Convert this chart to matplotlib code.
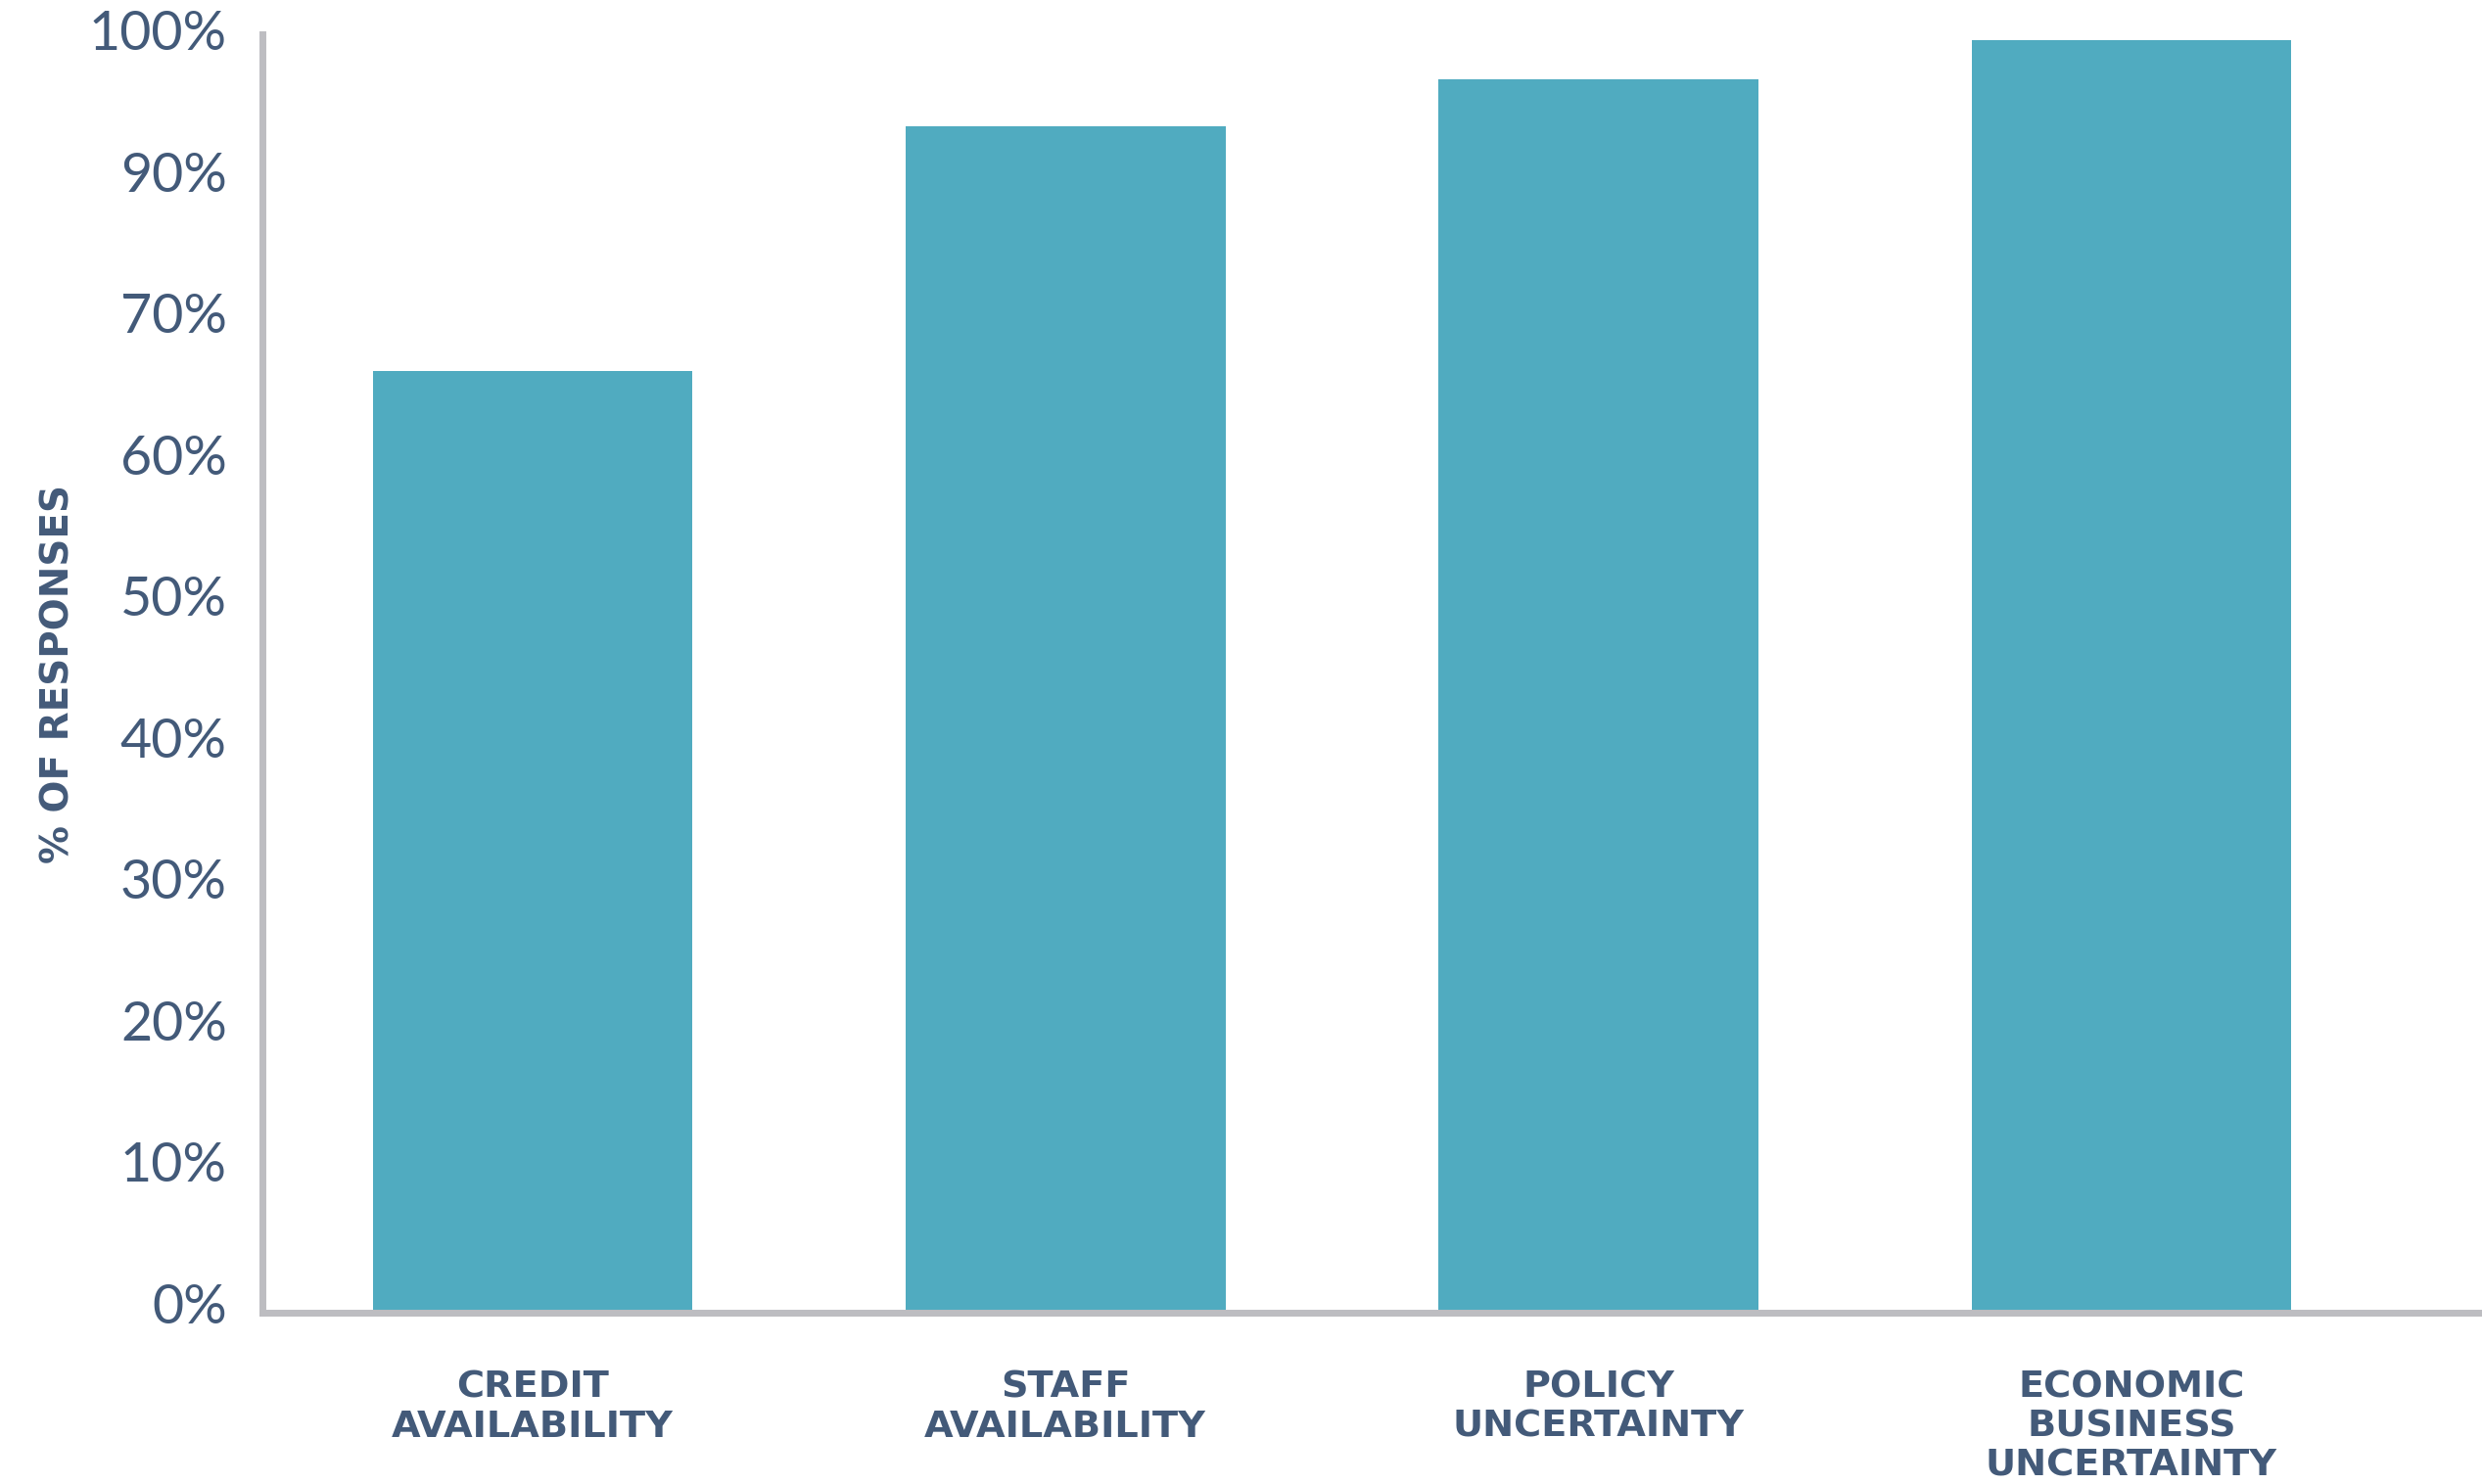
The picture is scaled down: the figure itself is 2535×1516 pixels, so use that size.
import numpy as np
import matplotlib
matplotlib.use('Agg')
import matplotlib.pyplot as plt
import matplotlib.transforms as mtransforms

categories = ['CREDIT\nAVAILABILITY', 'STAFF\nAVAILABILITY',
              'POLICY\nUNCERTAINTY', 'ECONOMIC\nBUSINESS\nUNCERTAINTY']
values = [66.6, 93.9, 97.2, 100.0]
tick_values = [0, 10, 20, 30, 40, 50, 60, 70, 90, 100]
tick_labels = ['0%', '10%', '20%', '30%', '40%', '50%', '60%', '70%', '90%', '100%']

text_color = '#435a79'
bar_color = '#50abc0'
axis_color = '#bdbdc1'

# the printed axis skips 80%: 90% and 100% sit one step lower
val_pts = [-100, 0, 70, 90, 100, 200]
pos_pts = [-10, 0, 7, 8, 9, 19]


def forward(v):
    return np.interp(v, val_pts, pos_pts)


def inverse(p):
    return np.interp(p, pos_pts, val_pts)


fig = plt.figure(figsize=(25.35, 15.16), dpi=100)
ax = fig.add_axes([0.1057, 0.1154, 0.8943, 0.8615])
ax.set_yscale('function', functions=(forward, inverse))

x = np.arange(len(categories))
ax.bar(x, values, width=0.6, color=bar_color, zorder=1)

ax.set_xlim(-0.507, 3.658)
ax.set_ylim(0, 100.4)

ax.set_yticks(tick_values)
ax.set_yticklabels(tick_labels, fontsize=40,
                   family=['Lato', 'DejaVu Sans'], fontweight='normal')
ax.set_xticks(x)
ax.set_xticklabels(categories, fontsize=27.5, fontweight='bold',
                   linespacing=1.15, va='top')
ax.tick_params(axis='y', length=0, pad=26, labelcolor=text_color)
ax.tick_params(axis='x', length=0, pad=42, labelcolor=text_color)

offset = mtransforms.ScaledTranslation(0, 10 / 100, fig.dpi_scale_trans)
for lab in ax.get_yticklabels():
    lab.set_transform(lab.get_transform() + offset)

ax.set_ylabel('% OF RESPONSES', fontsize=28, fontweight='bold',
              color=text_color, labelpad=0)
ax.yaxis.set_label_coords(-0.0837, 0.5)

for side in ['top', 'right']:
    ax.spines[side].set_visible(False)
for side in ['left', 'bottom']:
    ax.spines[side].set_color(axis_color)
    ax.spines[side].set_linewidth(5)
    ax.spines[side].set_zorder(3)

plt.savefig('out.png', dpi=100)
